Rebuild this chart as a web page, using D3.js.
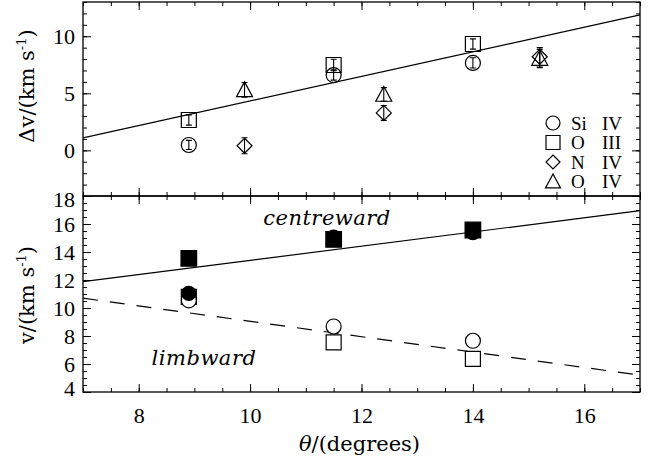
<!DOCTYPE html>
<html>
<head>
<meta charset="utf-8">
<script src="https://d3js.org/d3.v7.min.js"></script>
<style>
body { margin:0; background:#fff; }
svg text { font-family:"DejaVu Serif", serif; fill:#000; }
.axis path { display:none; }
.axis line { stroke:#000; stroke-width:1; }
</style>
</head>
<body>
<div id="chart"></div>
<script>
// angles
var theta1 = [8.9, 11.5, 14.0];
var theta2 = [9.9, 12.4, 15.2];

// top panel: velocity differences with errors
var dvSiIV  = [0.47, 6.6, 7.66],  errSiIV = [0.4, 0.45, 0.45];
var dvOIII  = [2.66, 7.48, 9.32], errOIII = [0.45, 0.5, 0.45];
var dvNIV   = [0.4, 3.28, 8.2],   errNIV  = [0.7, 0.65, 0.8];
var dvOIV   = [5.3, 4.9, 8.05],   errOIV  = [0.65, 0.6, 0.8];
var fitTopX = [7, 17], fitTopY = [1.1, 11.87];

// bottom panel: centreward (filled) and limbward (open)
var vOIIIcen = [13.55, 14.9, 15.57];
var vSiIVcen = [11.05, 15.07, 15.38];
var vSiIVlim = [10.55, 8.68, 7.66];
var vOIIIlim = [10.8, 7.55, 6.36];
var fitCenX = [7, 17], fitCenY = [11.88, 16.95];
var fitLimX = [7, 17], fitLimY = [10.7, 5.2];

var xTicks = [8, 10, 12, 14, 16];
var topTicks = [0, 5, 10];
var botTicks = [4, 6, 8, 10, 12, 14, 16, 18];
var legendNames = [["Si", "IV"], ["O", "III"], ["N", "IV"], ["O", "IV"]];
var legendSyms = ["circle", "square", "diamond", "triangle"];

var W = 654, H = 458;
var L = 83, R = 640, T1 = 2, MID = 196, B2 = 392;
var tickFont = "Liberation Serif";

svg = d3.select("#chart").append("svg").attr("width", W).attr("height", H);

var x = d3.scaleLinear().domain([7, 17]).range([L, R]);
var yTop = d3.scaleLinear().domain([-4, 13]).range([MID, T1]);
var yBot = d3.scaleLinear().domain([4, 18]).range([B2, MID]);

function symPath(type, h) {
  if (type == "circle") return "M" + (-h) + ",0 a" + h + "," + h + " 0 1,0 " + (2*h) + ",0 a" + h + "," + h + " 0 1,0 " + (-2*h) + ",0Z";
  if (type == "square") return "M" + (-h) + "," + (-h) + " h" + (2*h) + " v" + (2*h) + " h" + (-2*h) + "Z";
  if (type == "diamond") return "M0," + (-h) + " L" + h + ",0 L0," + h + " L" + (-h) + ",0Z";
  // triangle
  return "M0," + (-h) + " L" + h + "," + (0.85*h) + " L" + (-h) + "," + (0.85*h) + "Z";
}

function minorRange(a, b, s) {
  var out = [];
  for (var v = a; v <= b + 1e-9; v += s) out.push(+v.toFixed(3));
  return out;
}

function frame(yScale, majors, minors) {
  var r0 = yScale.range();
  var top = r0[1], bot = r0[0];
  var g = svg.append("g");
  // minor ticks
  g.append("g").attr("class", "axis").attr("transform", "translate(" + L + ",0)")
    .call(d3.axisLeft(yScale).tickValues(minors).tickSize(-4).tickFormat(""));
  g.append("g").attr("class", "axis").attr("transform", "translate(" + R + ",0)")
    .call(d3.axisRight(yScale).tickValues(minors).tickSize(-4).tickFormat(""));
  g.append("g").attr("class", "axis").attr("transform", "translate(0," + bot + ")")
    .call(d3.axisBottom(x).tickValues(minorRange(7, 17, 0.5)).tickSize(-4).tickFormat(""));
  g.append("g").attr("class", "axis").attr("transform", "translate(0," + top + ")")
    .call(d3.axisTop(x).tickValues(minorRange(7, 17, 0.5)).tickSize(-4).tickFormat(""));
  // major ticks
  var left = g.append("g").attr("class", "axis").attr("transform", "translate(" + L + ",0)")
    .call(d3.axisLeft(yScale).tickValues(majors).tickSize(-8).tickPadding(8).tickFormat(d3.format("d")));
  left.selectAll("text").style("font-size", "22px").style("font-family", tickFont);
  g.append("g").attr("class", "axis").attr("transform", "translate(" + R + ",0)")
    .call(d3.axisRight(yScale).tickValues(majors).tickSize(-8).tickFormat(""));
  g.append("g").attr("class", "axis").attr("transform", "translate(0," + bot + ")")
    .call(d3.axisBottom(x).tickValues(xTicks).tickSize(-8).tickFormat(""));
  g.append("g").attr("class", "axis").attr("transform", "translate(0," + top + ")")
    .call(d3.axisTop(x).tickValues(xTicks).tickSize(-8).tickFormat(""));
  g.append("rect").attr("x", L).attr("y", top).attr("width", R - L).attr("height", bot - top)
    .style("fill", "none").style("stroke", "#000").style("stroke-width", 1.3);
  return left;
}

frame(yTop, topTicks, minorRange(-4, 13, 1));
var botLeft = frame(yBot, botTicks, minorRange(4, 18, 0.5));
botLeft.selectAll(".tick text").attr("dy", function(d) {
  if (d == 18) return "0.46em";
  if (d == 4) return "0.15em";
  return "0.32em";
});

// x tick labels
svg.append("g").attr("class", "axis").attr("transform", "translate(0," + B2 + ")")
  .call(d3.axisBottom(x).tickValues(xTicks).tickSize(0).tickPadding(15).tickFormat(d3.format("d")))
  .selectAll("text").style("font-size", "22px").style("font-family", tickFont);

// axis titles
svg.append("text").attr("x", (L + R) / 2 - 2).attr("y", 451).attr("text-anchor", "middle")
  .style("font-size", "21px").html("<tspan font-style='italic'>θ</tspan>/(degrees)");

var t1 = svg.append("text").attr("transform", "translate(34,86) rotate(-90)").attr("text-anchor", "middle")
  .style("font-size", "21px");
t1.append("tspan").text("Δv/(km s");
t1.append("tspan").attr("dy", -8).style("font-size", "13px").text("-1");
t1.append("tspan").attr("dy", 8).text(")");

var t2 = svg.append("text").attr("transform", "translate(34,295) rotate(-90)").attr("text-anchor", "middle")
  .style("font-size", "21px");
t2.append("tspan").text("v/(km s");
t2.append("tspan").attr("dy", -8).style("font-size", "13px").text("-1");
t2.append("tspan").attr("dy", 8).text(")");

// fit lines
var line = d3.line().x(function(d) { return x(d[0]); });
svg.append("path").datum(d3.zip(fitTopX, fitTopY))
  .attr("d", line.y(function(d) { return yTop(d[1]); }))
  .style("fill", "none").style("stroke", "#000").style("stroke-width", 1.2);
svg.append("path").datum(d3.zip(fitCenX, fitCenY))
  .attr("d", line.y(function(d) { return yBot(d[1]); }))
  .style("fill", "none").style("stroke", "#000").style("stroke-width", 1.2);
svg.append("path").datum(d3.zip(fitLimX, fitLimY))
  .attr("d", line.y(function(d) { return yBot(d[1]); }))
  .style("fill", "none").style("stroke", "#000").style("stroke-width", 1.2)
  .style("stroke-dasharray", "15,12");

// top panel markers with error bars
function topSeries(xs, ys, errs, type, h) {
  var pts = d3.zip(xs, ys, errs);
  var g = svg.append("g");
  g.selectAll("path.m").data(pts).enter().append("path").attr("class", "m")
    .attr("transform", function(d) { return "translate(" + x(d[0]) + "," + yTop(d[1]) + ")"; })
    .attr("d", symPath(type, h))
    .style("fill", "none").style("stroke", "#000").style("stroke-width", 1.2);
  g.selectAll("path.e").data(pts).enter().append("path").attr("class", "e")
    .attr("d", function(d) {
      var cx = x(d[0]), a = yTop(d[1] + d[2]), b = yTop(d[1] - d[2]);
      return "M" + (cx - 3) + "," + a + "h6M" + cx + "," + a + "V" + b + "M" + (cx - 3) + "," + b + "h6";
    })
    .style("fill", "none").style("stroke", "#000").style("stroke-width", 1.1);
}
topSeries(theta1, dvSiIV, errSiIV, "circle", 7.5);
topSeries(theta1, dvOIII, errOIII, "square", 7.5);
topSeries(theta2, dvNIV, errNIV, "diamond", 7.5);
topSeries(theta2, dvOIV, errOIV, "triangle", 8);

// bottom panel markers
function botSeries(ys, type, h, filled) {
  svg.append("g").selectAll("path").data(d3.zip(theta1, ys)).enter().append("path")
    .attr("transform", function(d) { return "translate(" + x(d[0]) + "," + yBot(d[1]) + ")"; })
    .attr("d", symPath(type, h))
    .style("fill", filled ? "#000" : "#fff").style("stroke", "#000").style("stroke-width", 1.2);
}
botSeries(vOIIIlim, "square", 7.5, false);
botSeries(vSiIVlim, "circle", 7.5, false);
botSeries(vSiIVcen, "circle", 7, true);
botSeries(vOIIIcen, "square", 7.8, true);

svg.append("text").attr("x", 327).attr("y", 225).attr("text-anchor", "middle")
  .style("font-size", "21px").style("font-style", "italic").style("letter-spacing", "0.5px").text("centreward");
svg.append("text").attr("x", 204).attr("y", 365).attr("text-anchor", "middle")
  .style("font-size", "21px").style("font-style", "italic").style("letter-spacing", "0.5px").text("limbward");

// legend
var lg = svg.append("g");
legendNames.forEach(function(n, i) {
  var yy = 123 + i * 19.5;
  lg.append("path").attr("transform", "translate(553," + yy + ")")
    .attr("d", symPath(legendSyms[i], legendSyms[i] == "triangle" ? 7.5 : 7))
    .style("fill", "none").style("stroke", "#000").style("stroke-width", 1.2);
  lg.append("text").attr("x", 571).attr("y", yy + 6.5).style("font-size", "19px").style("font-family", tickFont).text(n[0]);
  lg.append("text").attr("x", 602).attr("y", yy + 6.5).style("font-size", "19px").style("font-family", tickFont).text(n[1]);
});
</script>
</body>
</html>
